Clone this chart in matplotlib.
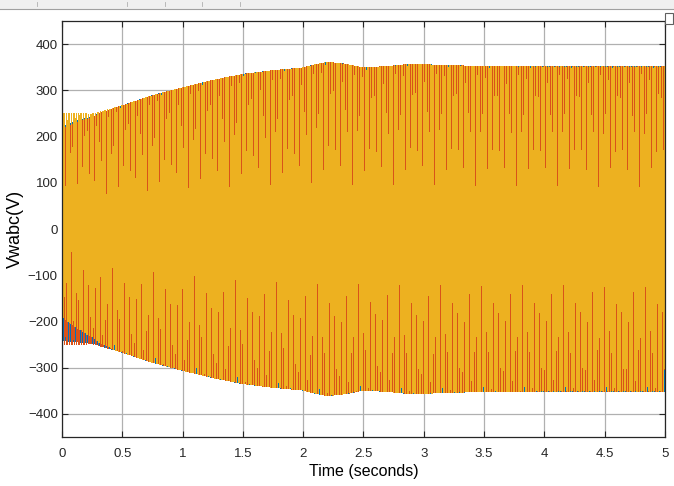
import numpy as np
import matplotlib
matplotlib.use('Agg')
import matplotlib.pyplot as plt
from matplotlib.patches import Rectangle

plt.rcParams['font.family'] = ['Liberation Sans', 'DejaVu Sans']

# envelope (peak value) of the three-phase voltage
env_t = [0.0, 0.25, 0.5, 0.75, 1.0, 1.25, 1.5, 1.75, 2.0, 2.1, 2.2, 2.35,
         2.5, 2.7, 2.9, 3.2, 3.5, 4.0, 5.0]
env_amp = [250, 248, 266, 288, 305, 321, 334, 342, 348, 355, 360, 356,
           348, 351, 356, 353, 351, 350, 350]

# start-up DC offset and amplitude deficit of each phase (a, b, c)
off_t = [0.0, 0.1, 0.2, 0.3, 0.45]
dc_off = [[-9, -6, -3, -1, 0],
          [-17, -11, -6, -2, 0],
          [30, 20, 11, 4, 0]]
amp_def = [[-19, -12, -6, -2, 0],
           [-18, -11, -6, -2, 0],
           [-30, -20, -11, -4, 0]]

f_grid = 50.0
phase_shift = [0.0, -2 * np.pi / 3, 2 * np.pi / 3]
colors = ['#0072BD', '#D95319', '#EDB120']

yticks = [-400, -300, -200, -100, 0, 100, 200, 300, 400]
xticks = [0, 0.5, 1, 1.5, 2, 2.5, 3, 3.5, 4, 4.5, 5]
xticklabels = ['0', '0.5', '1', '1.5', '2', '2.5', '3', '3.5', '4', '4.5', '5']

t = np.arange(0, 5.0 + 1e-9, 1e-4)
amp = np.interp(t, env_t, env_amp)

fig = plt.figure(figsize=(6.74, 4.86), dpi=100)
ax = fig.add_axes([0.092, 0.1008, 0.8946, 0.856])

# thin aliased lines, like the scope's own rendering
for k in range(3):
    a = amp + np.interp(t, off_t, amp_def[k])
    m = np.interp(t, off_t, dc_off[k])
    v = m + a * np.sin(2 * np.pi * f_grid * t + phase_shift[k])
    ax.plot(t, v, color=colors[k], lw=0.36, antialiased=False)

ax.set_xlim(0, 5)
ax.set_ylim(-450, 450)
ax.set_xticks(xticks)
ax.set_xticklabels(xticklabels)
ax.set_yticks(yticks)
ax.grid(True, color='#b0b0b0', lw=0.9)
ax.set_axisbelow(True)
ax.tick_params(direction='in', top=True, right=True, labelsize=9.5,
               length=4, colors='#262626', pad=8)
ax.tick_params(axis='y', pad=3)
for s in ax.spines.values():
    s.set_color('#262626')
    s.set_linewidth(0.9)
ax.set_xlabel('Time (seconds)', fontsize=11.5, labelpad=3)
ax.set_ylabel('Vwabc(V)', fontsize=13, labelpad=3)

# scope toolbar strip at the top
fig.add_artist(Rectangle((0, 0.981), 1, 0.019, transform=fig.transFigure,
                         facecolor='#f0f0f0', edgecolor='none'))
fig.add_artist(plt.Line2D([0, 1], [0.981, 0.981], transform=fig.transFigure,
                          color='#a0a0a0', lw=0.8))
for xp in [37, 127, 165, 202, 240]:
    fig.add_artist(plt.Line2D([xp / 674, xp / 674], [0.988, 0.996],
                              transform=fig.transFigure, color='#b0b0b0', lw=0.6))
fig.add_artist(Rectangle((665 / 674, 462 / 486), 8 / 674, 11 / 486,
                         transform=fig.transFigure, facecolor='white',
                         edgecolor='#606060', lw=0.8))

fig.savefig('out.png', dpi=100)
